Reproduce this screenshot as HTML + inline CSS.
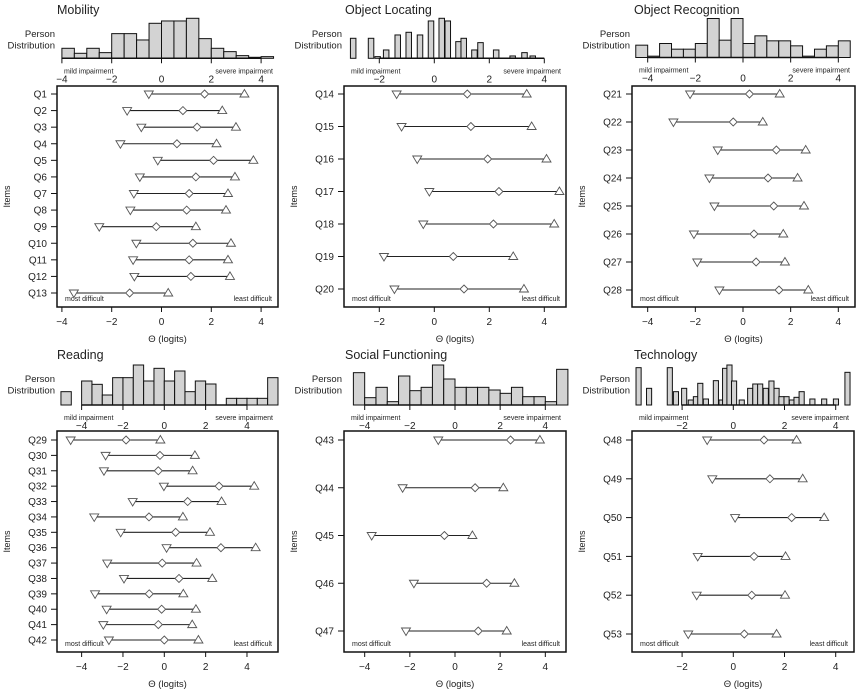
<!DOCTYPE html>
<html><head><meta charset="utf-8"><style>
html,body{margin:0;padding:0;background:#fff;}
svg{display:block;font-family:"Liberation Sans",Arial,sans-serif;}
</style></head><body>
<svg id="chart" width="859" height="693" viewBox="0 0 859 693"></svg>
<script>
// ---- data ----
const panelTitles = ["Mobility","Object Locating","Object Recognition","Reading","Social Functioning","Technology"];
// item labels
const items1 = ["Q1","Q2","Q3","Q4","Q5","Q6","Q7","Q8","Q9","Q10","Q11","Q12","Q13"];
const items2 = ["Q14","Q15","Q16","Q17","Q18","Q19","Q20"];
const items3 = ["Q21","Q22","Q23","Q24","Q25","Q26","Q27","Q28"];
const items4 = ["Q29","Q30","Q31","Q32","Q33","Q34","Q35","Q36","Q37","Q38","Q39","Q40","Q41","Q42"];
const items5 = ["Q43","Q44","Q45","Q46","Q47"];
const items6 = ["Q48","Q49","Q50","Q51","Q52","Q53"];
// lower threshold (down triangle), location (diamond), upper threshold (up triangle)
const low1 = [-0.51,-1.38,-0.81,-1.65,-0.15,-0.87,-1.11,-1.25,-2.50,-1.01,-1.14,-1.09,-3.52];
const mid1 = [1.73,0.86,1.43,0.62,2.09,1.38,1.11,1.01,-0.21,1.26,1.11,1.18,-1.28];
const high1 = [3.33,2.44,2.99,2.21,3.69,2.95,2.67,2.59,1.38,2.79,2.67,2.75,0.27];
const low2 = [-1.37,-1.19,-0.62,-0.18,-0.40,-1.83,-1.45];
const mid2 = [1.20,1.33,1.94,2.35,2.15,0.69,1.08];
const high2 = [3.36,3.54,4.08,4.55,4.36,2.87,3.26];
const low3 = [-2.22,-2.92,-1.06,-1.41,-1.20,-2.06,-1.92,-0.99];
const mid3 = [0.27,-0.41,1.40,1.05,1.29,0.46,0.55,1.51];
const high3 = [1.54,0.83,2.63,2.29,2.56,1.69,1.76,2.74];
const low4 = [-4.53,-2.84,-2.92,-0.02,-1.53,-3.39,-2.11,0.11,-2.76,-1.95,-3.35,-2.79,-2.95,-2.68];
const mid4 = [-1.85,-0.21,-0.29,2.65,1.13,-0.74,0.55,2.74,-0.10,0.71,-0.73,-0.13,-0.29,0.00];
const high4 = [-0.19,1.48,1.37,4.35,2.77,0.90,2.21,4.42,1.56,2.32,0.92,1.53,1.35,1.65];
const low5 = [-0.74,-2.32,-3.69,-1.82,-2.17];
const mid5 = [2.46,0.89,-0.47,1.40,1.03];
const high5 = [3.76,2.14,0.77,2.63,2.29];
const low6 = [-1.02,-0.82,0.07,-1.39,-1.43,-1.76];
const mid6 = [1.20,1.43,2.28,0.81,0.72,0.43];
const high6 = [2.47,2.71,3.55,2.04,2.02,1.69];
// person distribution histograms: bin left edges (logits) and relative counts
const bins1 = [-4,-3.5,-3,-2.5,-2,-1.5,-1,-0.5,0,0.5,1,1.5,2,2.5,3,3.5,4];
const counts1 = [30,15,30,17,74,74,55,105,112,112,120,59,30,20,8,3,5];
const bins2 = [-3.05,-2.40,-2.16,-1.85,-1.43,-1.03,-0.62,-0.22,0.17,0.39,0.78,0.97,1.36,1.58,2.15,2.75,3.18,3.48];
const counts2 = [60,60,5,25,70,78,70,112,120,112,50,60,25,47,25,7,17,7];
const bins3 = [-4.5,-4,-3.5,-3,-2.5,-2,-1.5,-1,-0.5,0,0.5,1,1.5,2,2.5,3,3.5,4];
const counts3 = [37,4,42,25,25,42,117,52,117,42,65,50,50,35,4,25,35,50];
const bins4 = [-5,-4.5,-4,-3.5,-3,-2.5,-2,-1.5,-1,-0.5,0,0.5,1,1.5,2,2.5,3,3.5,4,4.5,5];
const counts4 = [40,0,72,62,30,82,82,120,72,110,72,102,40,72,63,0,20,20,20,20,82];
const bins5 = [-4.5,-4,-3.5,-3,-2.5,-2,-1.5,-1,-0.5,0,0.5,1,1.5,2,2.5,3,3.5,4,4.5];
const counts5 = [97,22,53,10,87,43,53,120,78,53,53,53,45,35,53,25,25,10,107];
const bins6 = [-3.80,-3.39,-2.58,-2.34,-2.02,-1.76,-1.56,-1.39,-1.17,-0.78,-0.56,-0.42,-0.25,-0.07,0.23,0.56,0.76,0.95,1.17,1.39,1.59,1.78,1.98,2.19,2.37,2.57,2.99,3.45,3.91,4.36];
const counts6 = [112,50,112,40,50,15,25,65,18,73,15,110,120,72,15,50,63,63,50,72,50,25,25,15,23,40,18,18,18,98];
// tick labels
const ticksWide = [-4,-2,0,2,4];
const ticksNarrow = [-2,0,2,4];

// ---- layout (geometry only) ----
const panels = [
 {items:items1,low:low1,mid:mid1,high:high1,bins:bins1,counts:counts1,bw:0.5,ticks:ticksWide,L:57,R:278,T:86,B:307,x0:161.5,ppu:24.9,y1:94,yN:293,hb:58.3,oy:0,tx:57},
 {items:items2,low:low2,mid:mid2,high:high2,bins:bins2,counts:counts2,bw:0.2,ticks:ticksNarrow,L:344,R:566,T:86,B:307,x0:434.3,ppu:27.5,y1:94,yN:289,hb:58.3,oy:0,tx:345},
 {items:items3,low:low3,mid:mid3,high:high3,bins:bins3,counts:counts3,bw:0.5,ticks:ticksWide,L:632,R:855,T:86,B:307,x0:743,ppu:23.83,y1:94,yN:290,hb:57.5,oy:0,tx:634},
 {items:items4,low:low4,mid:mid4,high:high4,bins:bins4,counts:counts4,bw:0.5,ticks:ticksWide,L:57,R:278,T:431,B:652,x0:164.3,ppu:20.67,y1:440,yN:640,hb:405,oy:345,tx:57},
 {items:items5,low:low5,mid:mid5,high:high5,bins:bins5,counts:counts5,bw:0.5,ticks:ticksWide,L:344,R:566,T:431,B:652,x0:455,ppu:22.58,y1:440,yN:631,hb:405,oy:345,tx:345},
 {items:items6,low:low6,mid:mid6,high:high6,bins:bins6,counts:counts6,bw:0.2,ticks:ticksNarrow,L:632,R:854,T:431,B:652,x0:733.3,ppu:25.6,y1:440,yN:634,hb:405,oy:345,tx:634}
];
const NS = "http://www.w3.org/2000/svg";
const svg = document.getElementById("chart");
function mk(tag, attrs, parent, txt){
  const e = document.createElementNS(NS, tag);
  for (const k in attrs) e.setAttribute(k, attrs[k]);
  if (txt !== undefined) e.textContent = txt;
  parent.appendChild(e);
  return e;
}
panels.forEach((p, pi) => {
  const g = mk("g", {}, svg);
  
  
  const xs = v => p.x0 + v * p.ppu;
  const n = p.items.length;
  const ys = i => n > 1 ? p.y1 + i * (p.yN - p.y1) / (n - 1) : p.y1;
  const hs = c => c / 3;
  // title
  const t = mk("text", {x:p.tx, y:p.oy+14, "font-size":12.5, fill:"#222"}, g, panelTitles[pi]);
  
  
  const pd = mk("text", {x:55, y:p.oy+37, "font-size":9.5, "text-anchor":"end", fill:"#222", transform:"translate("+(p.L-57)+",0)"}, g);
  
  
  mk("tspan", {x:55, dy:0}, pd, "Person");
  mk("tspan", {x:55, dy:11.5}, pd, "Distribution");
  // histogram bars
  p.bins.forEach((b, i) => {
    const h = hs(p.counts[i]);
    if (h <= 0) return;
    const r = mk("rect", {x:xs(b), y:p.hb - h, width:p.bw*p.ppu, height:h, fill:"#d3d3d3", stroke:"#111", "stroke-width":1}, g);
    
    
  });
  // hist axis
  const tk = p.ticks;
  const hl = mk("line", {x1:xs(tk[0]), x2:xs(tk[tk.length-1]), y1:p.hb, y2:p.hb, stroke:"#111", "stroke-width":1.5}, g);
  
  
  tk.forEach(v => {
    mk("line", {x1:xs(v), x2:xs(v), y1:p.hb, y2:p.hb+5, stroke:"#111"}, g);
    const l = mk("text", {x:xs(v), y:p.hb+24, "font-size":10, "text-anchor":"middle", fill:"#222"}, g, v < 0 ? "\u2212" + (-v) : String(v));
    
    
  });
  const mi = mk("text", {x:p.L+7, y:p.hb+15, "font-size":7, fill:"#222"}, g, "mild impairment");
  
  
  const si = mk("text", {x:p.R-5, y:p.hb+15, "font-size":7, "text-anchor":"end", fill:"#222"}, g, "severe impairment");
  
  
  // plot box
  const box = mk("rect", {x:p.L, y:p.T, width:p.R-p.L, height:p.B-p.T, fill:"none", stroke:"#111", "stroke-width":1.5}, g);
  
  
  // bottom axis
  tk.forEach(v => {
    mk("line", {x1:xs(v), x2:xs(v), y1:p.B, y2:p.B+5, stroke:"#111"}, g);
    const l = mk("text", {x:xs(v), y:p.B+18, "font-size":10, "text-anchor":"middle", fill:"#222"}, g, v < 0 ? "\u2212" + (-v) : String(v));
    
    
  });
  const xt = mk("text", {x:(p.L+p.R)/2, y:p.B+35, "font-size":9.5, "text-anchor":"middle", fill:"#222"}, g, "\u0398 (logits)");
  
  
  const yt = mk("text", {x:0, y:0, "font-size":9, "text-anchor":"middle", fill:"#222", transform:"translate("+(p.L-47)+","+((p.T+p.B)/2)+") rotate(-90)"}, g, "Items");
  
  
  const md = mk("text", {x:p.L+8, y:p.B-6, "font-size":7, fill:"#222"}, g, "most difficult");
  
  
  const ld = mk("text", {x:p.R-6, y:p.B-6, "font-size":7, "text-anchor":"end", fill:"#222"}, g, "least difficult");
  
  
  // items
  p.items.forEach((q, i) => {
    const y = ys(i);
    mk("line", {x1:p.L-6, x2:p.L, y1:y, y2:y, stroke:"#111"}, g);
    const ql = mk("text", {x:p.L-10, y:y+3.5, "font-size":10, "text-anchor":"end", fill:"#222"}, g, q);
    
    
    const a = xs(p.low[i]), m = xs(p.mid[i]), b = xs(p.high[i]);
    const ln = mk("line", {x1:a, x2:b, y1:y, y2:y, stroke:"#222", "stroke-width":1.1}, g);
    
    
    const dt = mk("polygon", {points:(a-4.5)+","+(y-3)+" "+(a+4.5)+","+(y-3)+" "+a+","+(y+4.5), fill:"#fff", stroke:"#555", "stroke-width":0.9}, g);
    
    
    const dm = mk("polygon", {points:m+","+(y-4)+" "+(m+4)+","+y+" "+m+","+(y+4)+" "+(m-4)+","+y, fill:"#fff", stroke:"#555", "stroke-width":0.9}, g);
    
    
    const ut = mk("polygon", {points:(b-4.5)+","+(y+3)+" "+(b+4.5)+","+(y+3)+" "+b+","+(y-4.5), fill:"#fff", stroke:"#555", "stroke-width":0.9}, g);
    
    
  });
});
</script>
</body></html>
